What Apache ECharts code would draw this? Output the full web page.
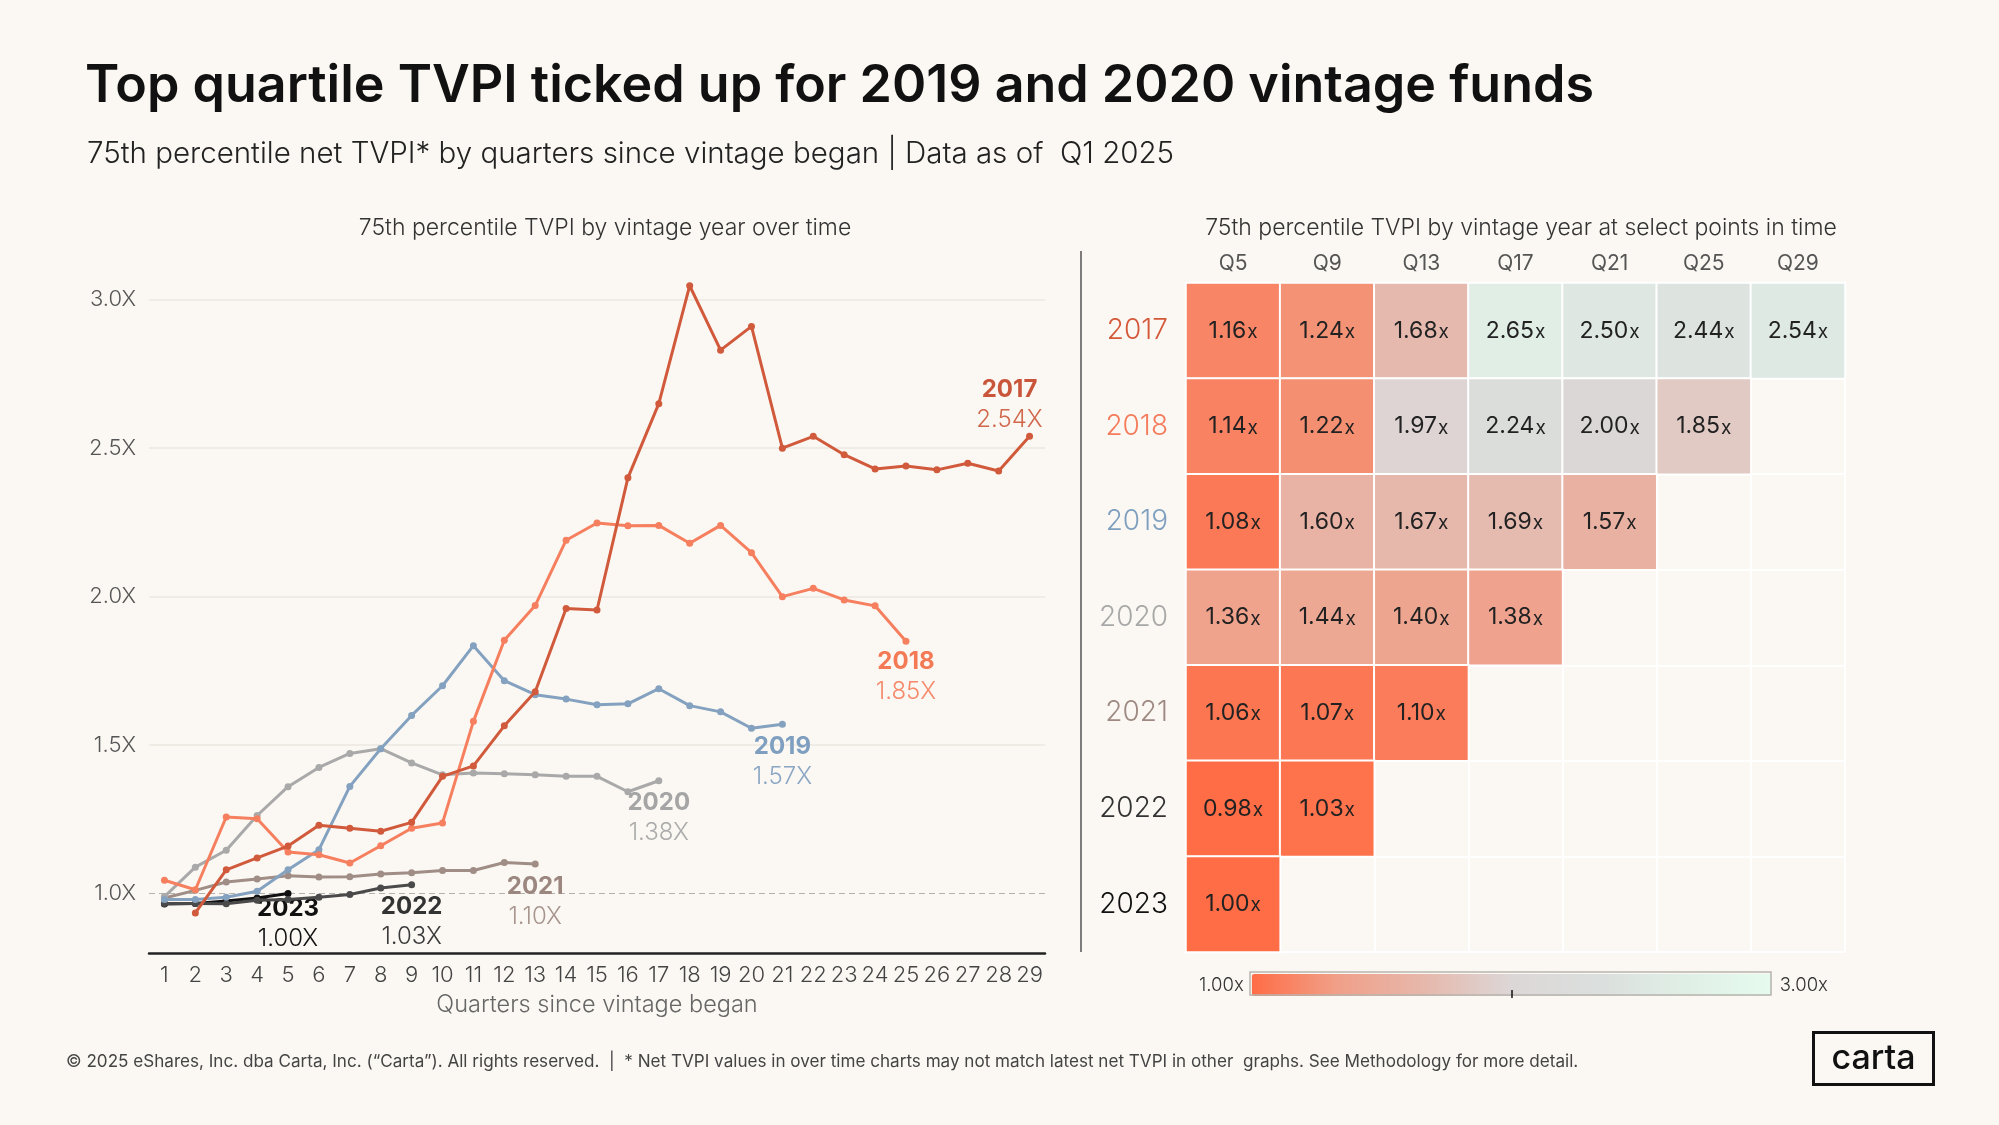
<!DOCTYPE html>
<html>
<head>
<meta charset="utf-8">
<script src="https://cdn.jsdelivr.net/npm/echarts@6/dist/echarts.min.js"></script>
<style>
  html, body { margin: 0; padding: 0; background: #fbf8f3; }
  #chart { width: 1999px; height: 1125px; }
</style>
</head>
<body>
<div id="chart"></div>
<script>
// ---------- DATA ----------
const quarters = ['1','2','3','4','5','6','7','8','9','10','11','12','13','14','15','16','17','18','19','20','21','22','23','24','25','26','27','28','29'];
const vintages = ['2017','2018','2019','2020','2021','2022','2023'];

const tvpi2017 = [null, 0.935, 1.08, 1.12, 1.16, 1.23, 1.22, 1.21, 1.24, 1.395, 1.43, 1.565, 1.68, 1.96, 1.955, 2.40, 2.65, 3.047, 2.83, 2.91, 2.50, 2.54, 2.478, 2.43, 2.44, 2.427, 2.449, 2.423, 2.54];
const tvpi2018 = [1.045, 1.013, 1.258, 1.252, 1.14, 1.131, 1.103, 1.161, 1.22, 1.238, 1.58, 1.853, 1.97, 2.19, 2.248, 2.239, 2.24, 2.18, 2.24, 2.148, 2.00, 2.028, 1.989, 1.969, 1.85];
const tvpi2019 = [0.98, 0.98, 0.988, 1.008, 1.08, 1.148, 1.361, 1.488, 1.60, 1.70, 1.835, 1.717, 1.67, 1.655, 1.636, 1.639, 1.69, 1.633, 1.612, 1.557, 1.57];
const tvpi2020 = [0.99, 1.089, 1.146, 1.263, 1.36, 1.425, 1.472, 1.488, 1.44, 1.40, 1.406, 1.404, 1.40, 1.395, 1.395, 1.343, 1.38];
const tvpi2021 = [0.985, 1.011, 1.039, 1.049, 1.06, 1.056, 1.057, 1.066, 1.07, 1.078, 1.078, 1.105, 1.10];
const tvpi2022 = [0.967, 0.967, 0.966, 0.978, 0.98, 0.988, 0.997, 1.019, 1.03];
const tvpi2023 = [0.965, 0.967, 0.975, 0.985, 1.00];

const yTickValues = [1.0, 1.5, 2.0, 2.5, 3.0];

const heatCols = ['Q5','Q9','Q13','Q17','Q21','Q25','Q29'];
const heat2017 = [1.16, 1.24, 1.68, 2.65, 2.50, 2.44, 2.54];
const heat2018 = [1.14, 1.22, 1.97, 2.24, 2.00, 1.85];
const heat2019 = [1.08, 1.60, 1.67, 1.69, 1.57];
const heat2020 = [1.36, 1.44, 1.40, 1.38];
const heat2021 = [1.06, 1.07, 1.10];
const heat2022 = [0.98, 1.03];
const heat2023 = [1.00];

// ---------- STYLE ----------
const FONT = 'Inter, "Noto Sans", sans-serif';
const lineColors = ['#d05a3b', '#f57f5e', '#84a2c0', '#a9a9a9', '#a08d86', '#4a4a4a', '#111111'];
const yearLabelColors = ['#c9553a', '#f47a55', '#7f9fc0', '#a5a5a5', '#9c8780', '#333333', '#111111'];
const valueLabelColors = ['#d0684c', '#f5896a', '#8aa6c4', '#ababab', '#a8958e', '#3a3a3a', '#111111'];
const rowLabelColors = ['#d4593a', '#f47c5c', '#7f9fbf', '#a8a8a8', '#9e8a82', '#333333', '#111111'];
const labelOffsets = [[-20, 8], [0, -4], [0, -2], [0, -2], [0, -2], [0, -2], [0, -9]];

const lineSeriesData = [tvpi2017, tvpi2018, tvpi2019, tvpi2020, tvpi2021, tvpi2022, tvpi2023];
const heatRows = [heat2017, heat2018, heat2019, heat2020, heat2021, heat2022, heat2023];

function buildLineSeries(idx) {
  const vals = lineSeriesData[idx];
  const last = vals.length - 1;
  const isTop = idx === 0;
  const data = vals.map((v, i) => {
    if (i !== last) return v;
    return {
      value: v,
      label: {
        show: true,
        position: isTop ? 'top' : 'bottom',
        distance: 6,
        offset: labelOffsets[idx],
        align: 'center',
        lineHeight: 30,
        formatter: '{y|' + vintages[idx] + '}\n{v|' + v.toFixed(2) + 'X}',
        rich: {
          y: { fontFamily: FONT, fontSize: 24, fontWeight: 700, color: yearLabelColors[idx], lineHeight: 30, align: 'center' },
          v: { fontFamily: FONT, fontSize: 24, fontWeight: 300, color: valueLabelColors[idx], lineHeight: 30, align: 'center' }
        }
      }
    };
  });
  const s = {
    name: vintages[idx],
    type: 'line',
    xAxisIndex: 0,
    yAxisIndex: 0,
    data: data,
    symbol: 'circle',
    symbolSize: 7,
    showSymbol: true,
    connectNulls: false,
    z: 10 - idx,
    lineStyle: { color: lineColors[idx], width: 3 },
    itemStyle: { color: lineColors[idx] },
    emphasis: { disabled: true },
    animation: false
  };
  if (idx === 6) {
    s.z = 3;
  }
  if (idx === 0) {
    s.markLine = {
      silent: true,
      symbol: 'none',
      label: { show: false },
      animation: false,
      z: 1,
      data: yTickValues.map(t => ({
        yAxis: t,
        lineStyle: t === 1.0
          ? { color: '#b5b2ad', type: [6, 4], width: 1.2 }
          : { color: '#ebe8e2', type: 'solid', width: 1.5 }
      }))
    };
  }
  return s;
}

const heatData = [];
heatRows.forEach((row, r) => {
  row.forEach((v, c) => heatData.push([c, r, v]));
});

const chart = echarts.init(document.getElementById('chart'), null, { renderer: 'canvas' });

const option = {
  backgroundColor: '#fbf8f3',
  animation: false,
  textStyle: { fontFamily: FONT },
  title: [
    {
      text: 'Top quartile TVPI ticked up for 2019 and 2020 vintage funds',
      left: 80, top: 55,
      textStyle: { fontFamily: FONT, fontSize: 52, fontWeight: 600, color: '#111111' }
    },
    {
      text: '75th percentile net TVPI* by quarters since vintage began | Data as of  Q1 2025',
      left: 82, top: 134,
      textStyle: { fontFamily: FONT, fontSize: 29.5, fontWeight: 300, color: '#222222' }
    },
    {
      text: '75th percentile TVPI by vintage year over time',
      left: 600, top: 212, textAlign: 'center',
      textStyle: { fontFamily: FONT, fontSize: 23, fontWeight: 300, color: '#333333' }
    },
    {
      text: '75th percentile TVPI by vintage year at select points in time',
      left: 1516, top: 212, textAlign: 'center',
      textStyle: { fontFamily: FONT, fontSize: 23, fontWeight: 300, color: '#333333' }
    },
    {
      text: '© 2025 eShares, Inc. dba Carta, Inc. (“Carta”). All rights reserved.  |  * Net TVPI values in over time charts may not match latest net TVPI in other  graphs. See Methodology for more detail.',
      left: 61, top: 1048,
      textStyle: { fontFamily: FONT, fontSize: 17.1, fontWeight: 400, color: '#444444' }
    }
  ],
  grid: [
    { left: 149, top: 270, width: 896, height: 683, containLabel: false },
    { left: 1186, top: 283, width: 659, height: 669, containLabel: false }
  ],
  xAxis: [
    {
      type: 'category',
      gridIndex: 0,
      data: quarters,
      boundaryGap: true,
      name: 'Quarters since vintage began',
      nameLocation: 'middle',
      nameGap: 40,
      nameTextStyle: { fontFamily: FONT, fontSize: 23.5, fontWeight: 300, color: '#666666' },
      axisLine: { show: true, lineStyle: { color: '#222222', width: 2.5 } },
      axisTick: { show: false },
      axisLabel: { fontFamily: FONT, fontSize: 22, fontWeight: 300, color: '#444444', margin: 11, interval: 0 },
      splitLine: { show: false }
    },
    {
      type: 'category',
      gridIndex: 1,
      data: heatCols,
      position: 'top',
      boundaryGap: true,
      axisLine: { show: false },
      axisTick: { show: false },
      axisLabel: { fontFamily: FONT, fontSize: 21, fontWeight: 400, color: '#555555', margin: 9 },
      splitLine: { show: true, lineStyle: { color: '#ffffff', width: 2 } }
    }
  ],
  yAxis: [
    {
      type: 'value',
      gridIndex: 0,
      min: 0.8,
      max: 3.1,
      interval: 0.1,
      axisLine: { show: false },
      axisTick: { show: false },
      splitLine: { show: false },
      axisLabel: {
        fontFamily: FONT, fontSize: 22, fontWeight: 300, color: '#555555', margin: 13,
        formatter: function (v) {
          const r = Math.round(v * 10);
          return (r % 5 === 0 && r >= 10 && r <= 30) ? (r / 10).toFixed(1) + 'X' : '';
        }
      }
    },
    {
      type: 'category',
      gridIndex: 1,
      data: vintages,
      inverse: true,
      boundaryGap: true,
      axisLine: { show: true, lineStyle: { color: '#111111', width: 1.5 } },
      axisTick: { show: false },
      axisLabel: {
        fontFamily: FONT, fontSize: 28, fontWeight: 300, margin: 18,
        color: function (val) { return rowLabelColors[vintages.indexOf(val)]; }
      },
      splitLine: { show: true, lineStyle: { color: '#ffffff', width: 2 } }
    }
  ],
  visualMap: {
    type: 'continuous',
    seriesIndex: 7,
    min: 1.0,
    max: 3.0,
    orient: 'horizontal',
    left: 1184,
    top: 959,
    itemWidth: 22,
    itemHeight: 520,
    calculable: false,
    hoverLink: false,
    text: ['3.00x', '1.00x'],
    textGap: 8,
    textStyle: { fontFamily: FONT, fontSize: 18.5, fontWeight: 300, color: '#333333' },
    inRange: {
      color: ['#ff6d46', '#f0a089', '#e6b8ac', '#dcd7d7', '#dbdfdd', '#e0efe6', '#e6fbee']
    }
  },
  series: [
    buildLineSeries(0),
    buildLineSeries(1),
    buildLineSeries(2),
    buildLineSeries(3),
    buildLineSeries(4),
    buildLineSeries(5),
    buildLineSeries(6),
    {
      name: 'heat',
      type: 'heatmap',
      xAxisIndex: 1,
      yAxisIndex: 1,
      data: heatData,
      itemStyle: { borderColor: '#ffffff', borderWidth: 2 },
      label: {
        show: true,
        formatter: function (p) { return '{a|' + p.value[2].toFixed(2) + '}{b|x}'; },
        rich: {
          a: { fontFamily: FONT, fontSize: 23, fontWeight: 400, color: '#222222' },
          b: { fontFamily: FONT, fontSize: 19, fontWeight: 400, color: '#222222', padding: [3, 0, 0, 1] }
        }
      },
      emphasis: { disabled: true },
      animation: false
    }
  ],
  graphic: [
    {
      type: 'line',
      shape: { x1: 1081, y1: 251, x2: 1081, y2: 952 },
      style: { stroke: '#555555', lineWidth: 1.5 },
      silent: true
    },
    {
      type: 'rect',
      shape: { x: 1250, y: 972, width: 521, height: 23 },
      style: { fill: 'transparent', stroke: '#b8b4ad', lineWidth: 1.5 },
      silent: true,
      z: 100
    },
    {
      type: 'line',
      shape: { x1: 1512, y1: 990, x2: 1512, y2: 998 },
      style: { stroke: '#111111', lineWidth: 1.5 },
      silent: true,
      z: 101
    },
    {
      type: 'group',
      left: 1812, top: 1031,
      children: [
        {
          type: 'rect',
          shape: { x: 0, y: 0, width: 120, height: 52 },
          style: { fill: 'transparent', stroke: '#111111', lineWidth: 3 }
        },
        {
          type: 'text',
          x: 60, y: 26,
          style: {
            text: 'carta', fill: '#111111', fontFamily: FONT, fontSize: 34, fontWeight: 500,
            align: 'center', verticalAlign: 'middle'
          }
        }
      ]
    }
  ]
};

chart.setOption(option);
</script>
</body>
</html>
